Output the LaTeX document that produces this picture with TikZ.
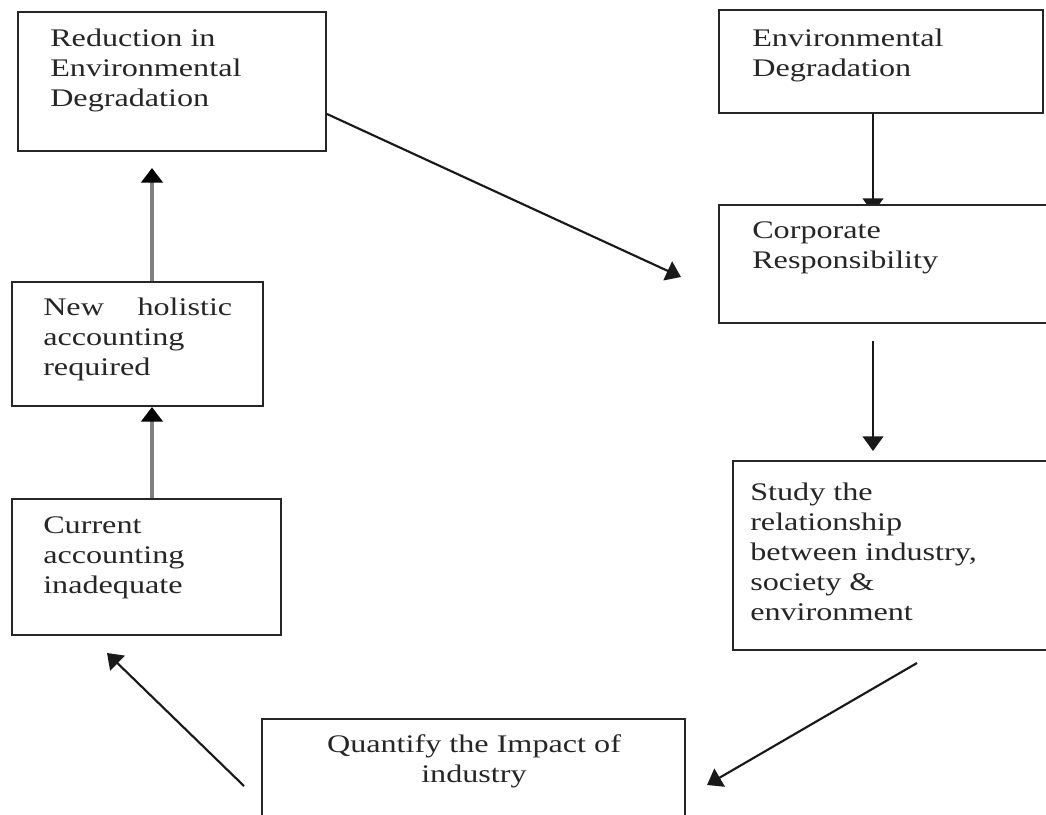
\documentclass[tikz,border=0pt]{standalone}
\usepackage{fontspec}
\setmainfont{Liberation Serif}[FakeStretch=1.27]
\usetikzlibrary{arrows.meta,calc,fit}
\pgfdeclarelayer{bg}
\pgfsetlayers{bg,main}
\begin{document}
\begin{tikzpicture}[x=0.75pt,y=-0.75pt,
  box/.style={draw=black!85, line width=1.5pt, fill=white, inner sep=0pt, rectangle},
  txt/.style={inner sep=0pt, align=left, text=black!85, font=\fontsize{19}{22.5}\selectfont},
  arr/.style={draw=black!90, line width=1.6pt, -{Triangle[width=15.5pt,length=11pt]}},
  garr/.style={draw=black!50, line width=2.8pt, -{Triangle[width=16pt,length=11pt,color=black]}}]
\useasboundingbox (0,0) rectangle (1046,814);
\clip (0,0) rectangle (1046,814);

% boxes
\node[box, fit={(18,12) (326,151)}] (rd) {};
\node[box, fit={(719,10) (1043,113)}] (ed) {};
\node[box, fit={(719,205) (1070,323)}] (cr) {};
\node[box, fit={(12,282) (263,406)}] (nw) {};
\node[box, fit={(12,499) (281,635)}] (cu) {};
\node[box, fit={(733,461) (1070,650)}] (st) {};
\node[box, fit={(262,719) (685,850)}] (qu) {};

% texts (anchored at the baseline of the last line)
\node[txt, anchor=base west] (rdt) at (50,106) {Reduction in\\Environmental\\Degradation};
\node[txt, anchor=base west] (edt) at (752,76) {Environmental\\Degradation};
\node[txt, anchor=base west] (crt) at (752,268) {Corporate\\Responsibility};
\node[txt, anchor=base west] (nwt) at (43,375) {\hbox to 141.75pt{New\hfill holistic}\\accounting\\required};
\node[txt, anchor=base west] (cut) at (43,593) {Current\\accounting\\inadequate};
\node[txt, anchor=base west] (stt) at (750,620) {Study the\\relationship\\between industry,\\society \&\\environment};
\node[txt, align=center, anchor=base] (qut) at (474,782) {Quantify the Impact of\\industry};

% connectors
\coordinate (xa) at (873,0);
\coordinate (xb) at (152,0);
\begin{pgfonlayer}{bg}
\draw[arr] (ed.south -| xa) -- ($(cr.north -| xa)+(0,9)$);
\end{pgfonlayer}
\draw[arr] ($(cr.south -| xa)+(0,17)$) -- ($(st.north -| xa)+(0,-9)$);
\draw[arr] ($(rd.south east)+(0,-38)$) -- ($(cr.west)+(-37,13)$);
\draw[arr] ($(st.south west)+(185,12)$) -- ($(qu.north east)+(21,67)$);
\draw[arr] ($(qu.north west)+(-17,68)$) -- ($(cu.south west)+(96,17)$);
\draw[garr] (cu.north -| xb) -- (nw.south -| xb);
\draw[garr] (nw.north -| xb) -- ($(rd.south -| xb)+(0,16)$);
\end{tikzpicture}
\end{document}
